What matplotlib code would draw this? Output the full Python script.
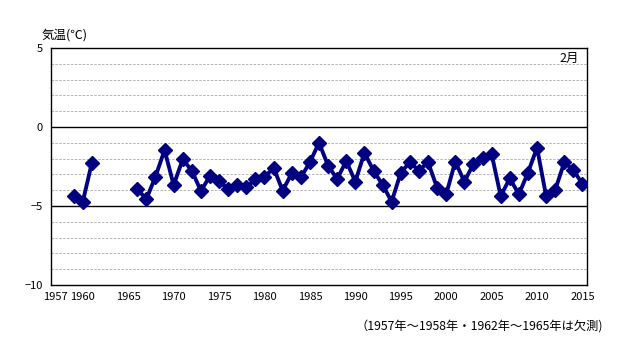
import matplotlib
matplotlib.use("Agg")
import matplotlib.pyplot as plt
import numpy as np

plt.rcParams['font.family'] = ['Noto Sans CJK JP', 'DejaVu Sans']

years_a = [1959, 1960, 1961]
temps_a = [-4.37, -4.73, -2.26]
years_b = list(range(1966, 2016))
temps_b = [-3.94, -4.56, -3.14, -1.46, -3.67, -2.05, -2.76, -4.05, -3.10, -3.42,
           -3.94, -3.69, -3.82, -3.31, -3.19, -2.57, -4.03, -2.93, -3.19, -2.23,
           -0.99, -2.45, -3.29, -2.15, -3.46, -1.63, -2.76, -3.66, -4.73, -2.89,
           -2.23, -2.76, -2.23, -3.84, -4.26, -2.19, -3.46, -2.34, -1.98, -1.71,
           -4.37, -3.25, -4.26, -2.89, -1.31, -4.37, -3.99, -2.23, -2.72, -3.61]
xtick_years = [1957, 1960, 1965, 1970, 1975, 1980, 1985, 1990, 1995, 2000, 2005, 2010, 2015]
yticks = [5, 0, -5, -10]

fig = plt.figure(figsize=(6.22, 3.52), dpi=100)
ax = fig.add_axes([51/622, 1-285/352, 536/622, 237/352])

ax.set_xlim(1956.5, 2015.5)
ax.set_ylim(-10, 5)

for v in range(-9, 5):
    if v in (0, -5):
        ax.axhline(v, color='black', lw=1.0, zorder=1)
    else:
        ax.axhline(v, color='#b4b4b4', lw=0.7, ls=(0, (2.5, 1.5)), zorder=1)

style = dict(color='#000080', lw=2.8, marker='D', markersize=7, zorder=3)
ax.plot(years_a, temps_a, **style)
ax.plot(years_b, temps_b, **style)

ax.set_xticks(xtick_years)
ax.set_xticklabels([str(y) for y in xtick_years])
ax.set_yticks(yticks)
ax.set_yticklabels([str(y).replace('-', '−') for y in yticks])
ax.tick_params(axis='both', length=0, labelsize=8, pad=6)
ax.tick_params(axis='x', pad=5)
for s in ax.spines.values():
    s.set_color('black')
    s.set_linewidth(1.0)

fig.text(42/622, 1-35/352, '気温(℃)', fontsize=9, ha='left', va='center')
ax.text(0.985, 0.955, '2月', transform=ax.transAxes, fontsize=9, ha='right', va='center')
fig.text(479/622, 1-326/352, '（1957年～1958年・1962年～1965年は欠測)', fontsize=8.8, ha='center', va='center')

fig.savefig('out.png', dpi=100)
